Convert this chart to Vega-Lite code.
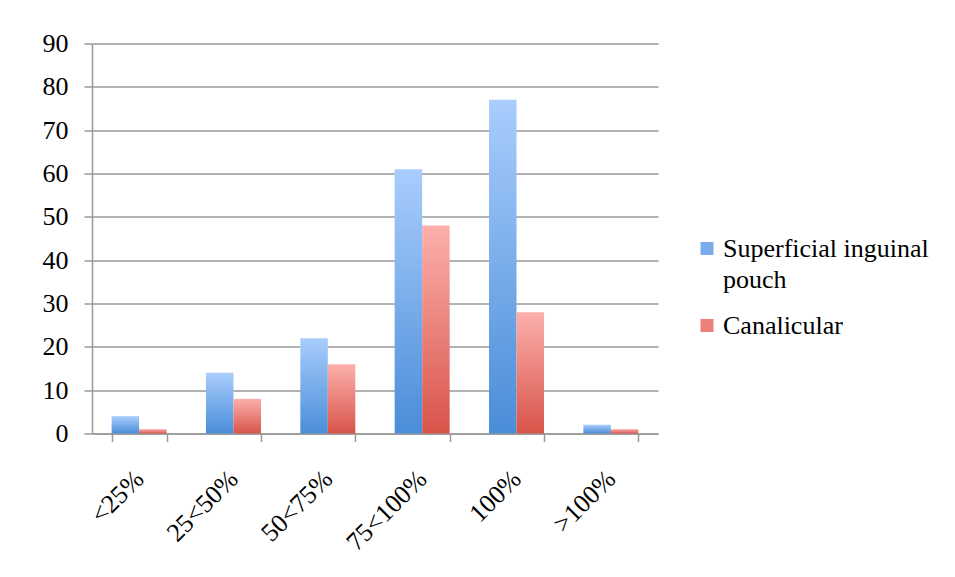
{
  "$schema": "https://vega.github.io/schema/vega-lite/v6.json",
  "width": 566,
  "height": 390,
  "autosize": {"type": "none"},
  "padding": {"left": 92, "top": 43.5, "right": 297, "bottom": 143.5},
  "background": "white",
  "config": {
    "view": {"stroke": null},
    "font": "Liberation Serif",
    "axis": {"labelFont": "Liberation Serif", "labelColor": "#000000", "domainColor": "#999999", "tickColor": "#999999", "gridColor": "#999999", "domainWidth": 1.5, "tickWidth": 1.5, "gridWidth": 1.5, "gridOpacity": 1, "domainOpacity": 1, "tickOpacity": 1},
    "legend": {"labelFont": "Liberation Serif", "labelColor": "#000000"}
  },
  "data": {
    "values": [
      {"category": "<25%", "series": "Superficial inguinal pouch", "value": 4},
      {"category": "<25%", "series": "Canalicular", "value": 1},
      {"category": "25<50%", "series": "Superficial inguinal pouch", "value": 14},
      {"category": "25<50%", "series": "Canalicular", "value": 8},
      {"category": "50<75%", "series": "Superficial inguinal pouch", "value": 22},
      {"category": "50<75%", "series": "Canalicular", "value": 16},
      {"category": "75<100%", "series": "Superficial inguinal pouch", "value": 61},
      {"category": "75<100%", "series": "Canalicular", "value": 48},
      {"category": "100%", "series": "Superficial inguinal pouch", "value": 77},
      {"category": "100%", "series": "Canalicular", "value": 28},
      {"category": ">100%", "series": "Superficial inguinal pouch", "value": 2},
      {"category": ">100%", "series": "Canalicular", "value": 1}
    ]
  },
  "encoding": {
    "x": {
      "field": "category",
      "type": "nominal",
      "sort": ["<25%", "25<50%", "50<75%", "75<100%", "100%", ">100%"],
      "scale": {"paddingInner": 0.417, "paddingOuter": 0.208},
      "axis": {"title": null, "labelAngle": -45, "labelAlign": "right", "labelBaseline": "middle", "labelFontSize": 26, "labelPadding": 33, "tickBand": "extent", "tickSize": 8, "grid": false}
    },
    "y": {
      "field": "value",
      "type": "quantitative",
      "scale": {"domain": [0, 90], "nice": false},
      "axis": {"title": null, "values": [0, 10, 20, 30, 40, 50, 60, 70, 80, 90], "labelFontSize": 26, "tickSize": 8, "labelPadding": 16, "grid": true}
    },
    "xOffset": {
      "field": "series",
      "type": "nominal",
      "scale": {"domain": ["Superficial inguinal pouch", "Canalicular"], "paddingInner": 0, "paddingOuter": 0}
    }
  },
  "layer": [
    {
      "transform": [{"filter": "datum.series == 'Superficial inguinal pouch'"}],
      "mark": {"type": "bar", "color": {"gradient": "linear", "x1": 0, "y1": 0, "x2": 0, "y2": 1, "stops": [{"offset": 0, "color": "#a9cdfd"}, {"offset": 1, "color": "#4a8dd8"}]}}
    },
    {
      "transform": [{"filter": "datum.series == 'Canalicular'"}],
      "mark": {"type": "bar", "color": {"gradient": "linear", "x1": 0, "y1": 0, "x2": 0, "y2": 1, "stops": [{"offset": 0, "color": "#fcb0ac"}, {"offset": 1, "color": "#d8544a"}]}}
    },
    {
      "mark": {"type": "point", "filled": true, "opacity": 0, "size": 1},
      "encoding": {
        "color": {
          "field": "series",
          "type": "nominal",
          "scale": {"domain": ["Superficial inguinal pouch", "Canalicular"], "range": ["#7aaceb", "#ec8079"]},
          "legend": {
            "title": null,
            "orient": "none",
            "legendX": 602,
            "legendY": 192,
            "symbolType": "square",
            "symbolSize": 169,
            "symbolOpacity": 1,
            "symbolStrokeWidth": 0,
            "labelFontSize": 26,
            "labelOffset": 3,
            "labelLimit": 400,
            "rowPadding": 20,
            "labelExpr": "datum.label == 'Superficial inguinal pouch' ? ['Superficial inguinal', 'pouch'] : datum.label",
            "encode": {
              "labels": {"update": {"lineHeight": {"value": 31}}},
              "symbols": {
                "update": {
                  "fill": {"signal": "datum.value == 'Canalicular' ? {gradient: 'linear', x1: 0, y1: 0, x2: 0, y2: 1, stops: [{offset: 0, color: '#fcb0ac'}, {offset: 1, color: '#d8544a'}]} : {gradient: 'linear', x1: 0, y1: 0, x2: 0, y2: 1, stops: [{offset: 0, color: '#a9cdfd'}, {offset: 1, color: '#4a8dd8'}]}"},
                  "opacity": {"value": 1}
                }
              }
            }
          }
        }
      }
    }
  ]
}
